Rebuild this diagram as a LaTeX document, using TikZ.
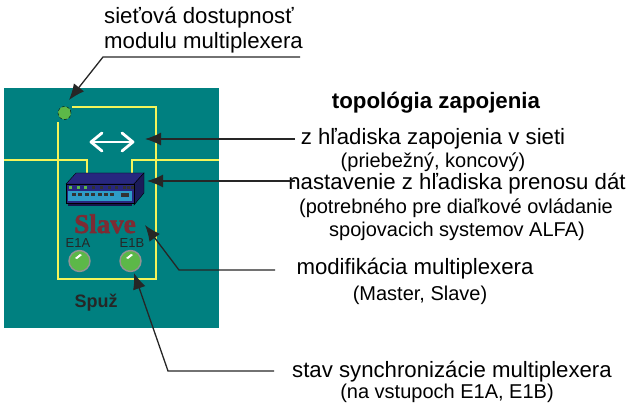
\documentclass[tikz,border=0pt]{standalone}
\usepackage{fontspec}
\usepackage{tikz}
\usetikzlibrary{arrows.meta}
\setmainfont{Liberation Sans}
\setsansfont{Liberation Sans}
\newfontfamily\slavefont[BoldFeatures = {FakeBold = 2}]{Liberation Serif}
\definecolor{panelteal}{HTML}{008080}
\definecolor{wireyellow}{HTML}{F4F45A}
\definecolor{ledgreen}{HTML}{5CB848}
\definecolor{slavered}{HTML}{7E2B33}
\definecolor{caseblue}{HTML}{27277F}
\definecolor{portblue}{HTML}{2E9CC8}

\begin{document}
\begin{tikzpicture}[
  x = 1pt,
  y = -1pt,
  title/.style = {anchor = base, inner sep = 0pt, font = \fontsize{22.2}{24}\selectfont},
  subtitle/.style = {anchor = base, inner sep = 0pt, font = \fontsize{20}{22}\selectfont},
  pointer/.style = {draw = black!85, line width = 1.3pt, -{Latex[length = 16pt, width = 13pt]}},
  wire/.style = {draw = wireyellow, line width = 1.4pt},
  led/.style = {circle, draw = gray!85!white, line width = 1.4pt, fill = ledgreen, minimum size = 21pt, inner sep = 0pt},
  chip/.style = {inner sep = 0pt, font = \fontsize{13}{14}\selectfont, text = black!85},
]

\useasboundingbox (0,0) rectangle (628,403);
\fill [panelteal] (4,88) rectangle (219,328);

\draw [wire] (72,107) -- (156,107) -- (156,279) -- (58,279) -- (58,122);
\draw [wire] (4,160) -- (87,160) -- (87,174);
\draw [wire] (219,160) -- (132,160) -- (132,174);

\draw [white, line width = 2.8pt] (92,142) -- (132,142);
\draw [white, line width = 2.8pt, line cap = round, line join = round] (102,133) -- (91,142) -- (102,151);
\draw [white, line width = 2.8pt, line cap = round, line join = round] (122,133) -- (133,142) -- (122,151);

\fill [caseblue!60!black] (68,203) rectangle (132,206);
\filldraw [fill = caseblue, draw = black] (66,184) -- (76,173) -- (144,173) -- (134,184) -- cycle;
\filldraw [fill = caseblue!70!black, draw = black] (134,184) -- (144,173) -- (144,193) -- (134,205) -- cycle;
\filldraw [fill = caseblue, draw = black] (66,184) rectangle (134,203);
\fill [portblue] (68,191) rectangle (132,201);
\foreach \i in {0,1,2}
  \fill [ledgreen] (69+\i*7.7,186) rectangle ++(3,3);
\foreach \i in {3,...,8}
  \fill [black!80] (69+\i*7.7,186) rectangle ++(3,3);
\fill [black!80] (127,186) rectangle ++(3,3);
\foreach \i in {0,...,6}
  \fill [black!80] (72+\i*6.4,193) rectangle ++(4,3);
\fill [black!80] (121,193) rectangle ++(8,4);

\node [anchor = base, inner sep = 0pt, text = slavered, font = \slavefont\fontsize{27}{28}\selectfont\bfseries] (slave) at (105,233) {Slave};
\node [chip] (labelA) at (78,243) {E1A};
\node [chip] (labelB) at (132,243) {E1B};
\node [led] (ledA) at (79.5,261) {};
\node [led] (ledB) at (130.5,261) {};
\fill [white] (75,258) -- (80,254) -- (82,255) -- (77,259) -- cycle;
\fill [white] (126,258) -- (131,254) -- (133,255) -- (128,259) -- cycle;
\node [inner sep = 0pt, text = black!85, font = \fontsize{18}{20}\selectfont\bfseries] (spuz) at (96,303) {Spuž};
\node [circle, draw = black, densely dashed, fill = ledgreen, minimum size = 13pt, inner sep = 0pt] (status) at (64.5,113) {};

\node [title, anchor = base west] (siet) at (104,24) {sieťová dostupnosť};
\node [title, anchor = base west] (modul) at (104,49) {modulu multiplexera};
\node [title, font = \fontsize{22.3}{24}\selectfont\bfseries] (topo) at (436,109) {topológia zapojenia};
\node [title] (zapojenie) at (433,145) {z hľadiska zapojenia v sieti};
\node [subtitle] (priebezny) at (433,168) {(priebežný, koncový)};
\node [title] (nastavenie) at (457,190) {nastavenie z hľadiska prenosu dát};
\node [subtitle] (potrebne) at (456,214) {(potrebného pre diaľkové ovládanie};
\node [subtitle] (spojovacie) at (457,236) {spojovacich systemov ALFA)};
\node [title] (modifikacia) at (415,274) {modifikácia multiplexera};
\node [subtitle] (master) at (420,300) {(Master, Slave)};
\node [title] (stav) at (452,377) {stav synchronizácie multiplexera};
\node [subtitle] (vstupy) at (447,398) {(na vstupoch E1A, E1B)};

\coordinate (statusTip) at (69,100);
\coordinate (modulKnee) at (103,57);
\coordinate (modulEnd) at (300,57);
\coordinate (zapojenieEnd) at (295,139);
\coordinate (zapojenieTip) at (145,139);
\coordinate (nastavenieEnd) at (295,181);
\coordinate (nastavenieTip) at (147,181);
\coordinate (modifikaciaEnd) at (275,270);
\coordinate (modifikaciaKnee) at (179,270);
\coordinate (modifikaciaTip) at (145,225);
\coordinate (stavEnd) at (274,371);
\coordinate (stavKnee) at (168,371);
\coordinate (stavTip) at (134,273);

\draw [pointer] (modulEnd) -- (modulKnee) -- (statusTip);
\draw [pointer] (zapojenieEnd) -- (zapojenieTip);
\draw [pointer] (nastavenieEnd) -- (nastavenieTip);
\draw [pointer] (modifikaciaEnd) -- (modifikaciaKnee) -- (modifikaciaTip);
\draw [pointer] (stavEnd) -- (stavKnee) -- (stavTip);

\end{tikzpicture}
\end{document}
